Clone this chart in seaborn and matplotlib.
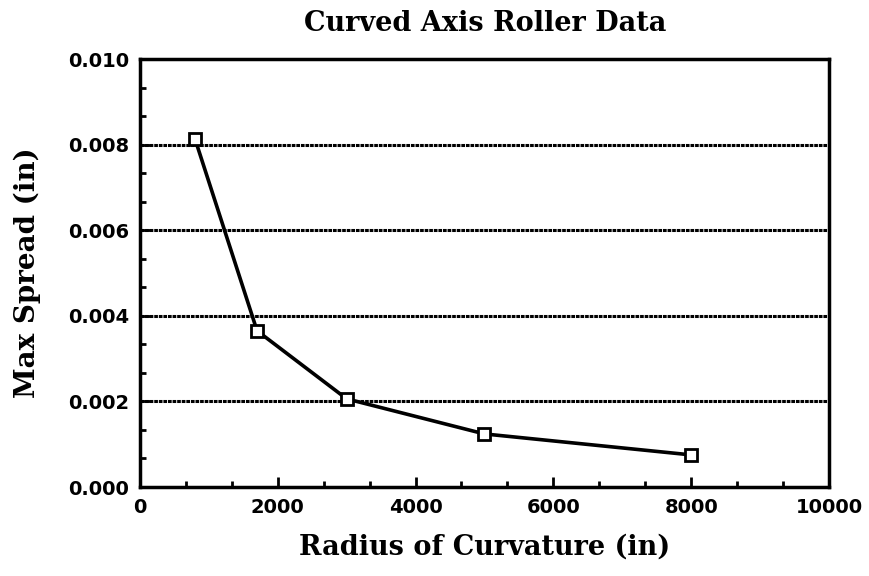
import numpy as np
import pandas as pd
import matplotlib
matplotlib.use("Agg")
import matplotlib.pyplot as plt
import seaborn as sns
from matplotlib.ticker import MultipleLocator

# data
radius = [800, 1700, 3000, 5000, 8000]
spread = [0.00813, 0.00365, 0.00206, 0.00124, 0.00075]
x_ticks = [0, 2000, 4000, 6000, 8000, 10000]
y_ticks = [0.000, 0.002, 0.004, 0.006, 0.008, 0.010]

df = pd.DataFrame({"radius": radius, "spread": spread})

sns.set_style("ticks")
plt.rcParams['font.family'] = ['DejaVu Sans']
plt.rcParams['text.color'] = 'black'
plt.rcParams['axes.labelcolor'] = 'black'
plt.rcParams['xtick.color'] = 'black'
plt.rcParams['ytick.color'] = 'black'

fig = plt.figure(figsize=(8.69, 5.76), dpi=100)
ax = fig.add_axes([0.161, 0.1545, 0.793, 0.743])

# horizontal grid
for yv in y_ticks[1:-1]:
    ax.axhline(yv, color="black", lw=2.2, ls=(0, (1.2, 0.3)), zorder=1)

sns.lineplot(data=df, x="radius", y="spread", ax=ax, color="black", lw=2.6,
             marker="s", markersize=8, markerfacecolor="white",
             markeredgecolor="black", markeredgewidth=2, zorder=3)

ax.set_xlim(0, 10000)
ax.set_ylim(0, 0.010)
ax.set_xticks(x_ticks)
ax.set_yticks(y_ticks)
ax.set_xticklabels([str(v) for v in x_ticks])
ax.set_yticklabels([f"{v:.3f}" for v in y_ticks])
ax.xaxis.set_minor_locator(MultipleLocator(2000 / 3))
ax.yaxis.set_minor_locator(MultipleLocator(0.002 / 3))
ax.tick_params(which="major", direction="in", length=7, width=2,
               labelsize=14, pad=8, colors="black")
ax.tick_params(which="minor", direction="in", length=4, width=2)
ax.tick_params(top=False, right=False, which="both")
for lab in ax.get_xticklabels() + ax.get_yticklabels():
    lab.set_fontweight("bold")

for sp in ax.spines.values():
    sp.set_linewidth(2.5)
    sp.set_color("black")

serif = ['DejaVu Serif']
ax.set_xlabel("Radius of Curvature (in)", fontsize=19.5, family=serif,
              fontweight="bold", labelpad=12, color="black")
ax.set_ylabel("Max Spread (in)", fontsize=20, family=serif,
              fontweight="bold", labelpad=19, color="black")
fig.text(0.558, 0.960, "Curved Axis Roller Data", ha="center", va="center",
         fontsize=19.5, family=serif, fontweight="bold", color="black")

fig.savefig("out.png", dpi=100)
